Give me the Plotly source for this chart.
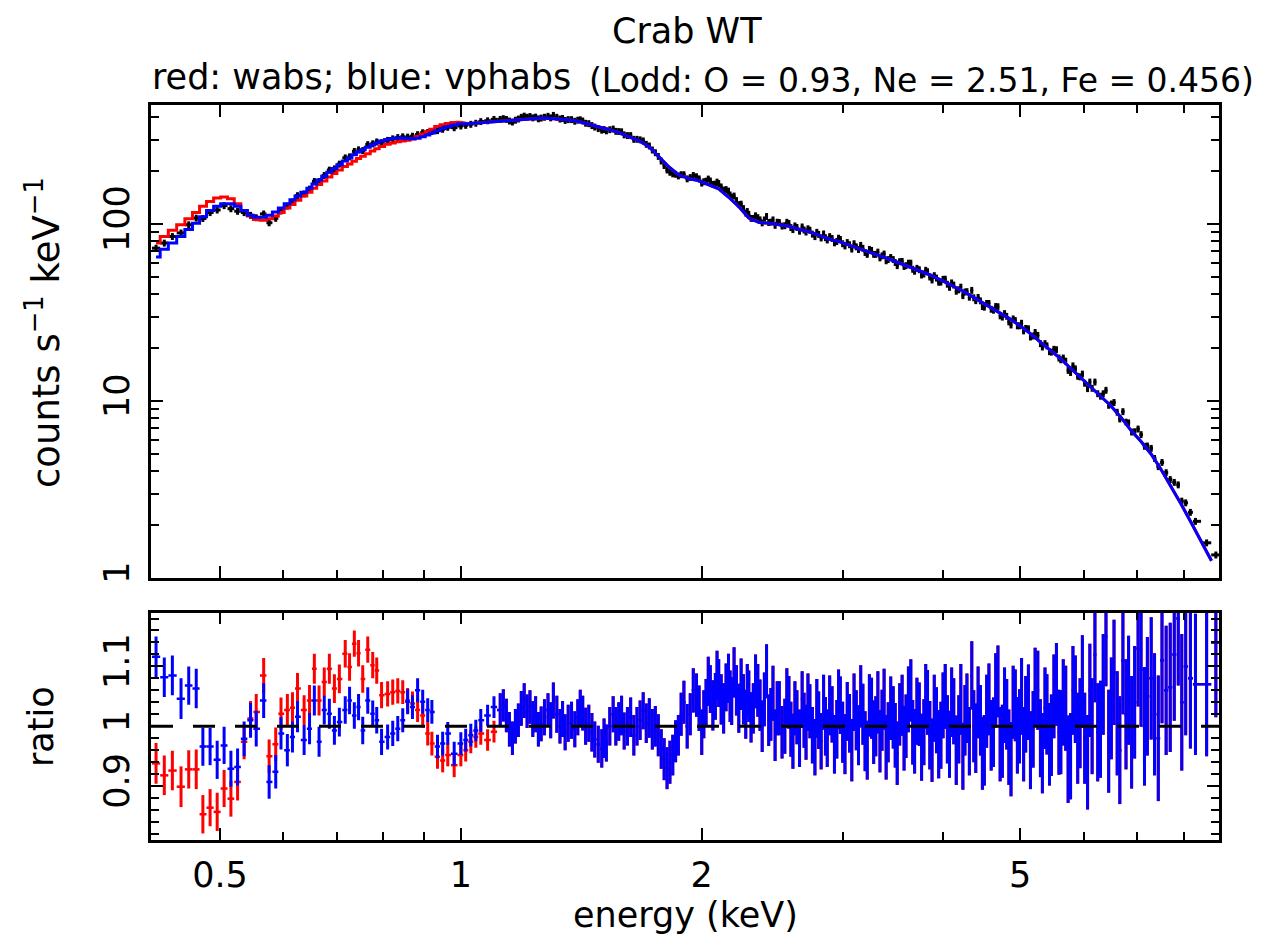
import numpy as np
import plotly.graph_objects as go

# ---------------------------------------------------------------------------
# Energy grid of the spectral bins (keV); data and ratio share these bins
# ---------------------------------------------------------------------------
energy_lo = [0.416, 0.426, 0.436, 0.447, 0.457, 0.467, 0.476, 0.486, 0.496, 0.506,
             0.516, 0.526, 0.536, 0.546, 0.555, 0.567, 0.576, 0.587, 0.596, 0.607,
             0.616, 0.625, 0.637, 0.647, 0.656, 0.665, 0.675, 0.685, 0.695, 0.705,
             0.717, 0.726, 0.736, 0.745, 0.754, 0.765, 0.776, 0.785, 0.796, 0.810,
             0.822, 0.834, 0.846, 0.858, 0.870, 0.883, 0.896, 0.909, 0.920, 0.935,
             0.949, 0.963, 0.981, 1.000, 1.014, 1.029, 1.044, 1.059, 1.080, 1.100]
energy_a = [1.12, 1.13, 1.14, 1.15, 1.16, 1.17, 1.18, 1.19, 1.20, 1.21,
            1.22, 1.23, 1.24, 1.25, 1.26, 1.272, 1.285, 1.295, 1.305, 1.318,
            1.33, 1.34, 1.35, 1.362, 1.375, 1.388, 1.40, 1.41, 1.42, 1.432,
            1.445, 1.458, 1.47, 1.485, 1.50, 1.51, 1.52, 1.535, 1.55, 1.562,
            1.575, 1.588, 1.60, 1.615, 1.63, 1.645, 1.66, 1.675, 1.69, 1.705,
            1.72, 1.735, 1.75, 1.765, 1.78, 1.795, 1.81, 1.825, 1.84, 1.855,
            1.87, 1.885, 1.90, 1.918, 1.935, 1.952, 1.97, 1.985]
energy_b = [2.00, 2.012, 2.025, 2.038, 2.05, 2.065, 2.08, 2.09, 2.10, 2.115,
            2.13, 2.145, 2.16, 2.17, 2.18, 2.195, 2.21, 2.225, 2.24, 2.255,
            2.27, 2.28, 2.29, 2.305, 2.32, 2.335, 2.35, 2.365, 2.38, 2.395,
            2.41, 2.425, 2.44, 2.455, 2.47, 2.485, 2.50, 2.52, 2.54, 2.555,
            2.57, 2.585, 2.60, 2.615, 2.63, 2.65, 2.67, 2.685, 2.70, 2.715,
            2.73, 2.75, 2.77, 2.785, 2.80, 2.82, 2.84, 2.855, 2.87, 2.89,
            2.91, 2.93, 2.95, 2.965, 2.98, 3.00, 3.02, 3.04, 3.06, 3.08,
            3.10, 3.12, 3.14, 3.16, 3.18, 3.20, 3.22, 3.24, 3.26, 3.28,
            3.30, 3.32, 3.34, 3.36, 3.38, 3.40, 3.42, 3.445, 3.47, 3.49,
            3.51, 3.535, 3.56, 3.58, 3.60, 3.625, 3.65, 3.67, 3.69, 3.715,
            3.74, 3.765, 3.79, 3.81, 3.83, 3.855, 3.88, 3.905, 3.93, 3.955,
            3.98, 4.005, 4.03, 4.055, 4.08, 4.105, 4.13, 4.16, 4.19, 4.215,
            4.24, 4.265, 4.29, 4.32, 4.35, 4.375, 4.40, 4.43, 4.46, 4.485,
            4.51, 4.54, 4.57, 4.60, 4.63, 4.66, 4.69, 4.72, 4.75, 4.78,
            4.81, 4.84, 4.87, 4.90, 4.93, 4.96, 4.99, 5.02]
energy_c = [5.05, 5.08, 5.12, 5.15, 5.19, 5.22, 5.26, 5.30, 5.33, 5.37,
            5.40, 5.44, 5.47, 5.51, 5.55, 5.59, 5.62, 5.66, 5.70, 5.74,
            5.78, 5.82, 5.86, 5.90, 5.94, 5.98, 6.02, 6.07, 6.11, 6.15,
            6.20, 6.25, 6.30, 6.35, 6.40, 6.45, 6.50, 6.55, 6.61, 6.66,
            6.72, 6.78, 6.83, 6.89, 6.95, 7.02, 7.08, 7.15, 7.21, 7.29,
            7.36, 7.44, 7.52, 7.61, 7.70, 7.79, 7.88, 7.96, 8.05, 8.16,
            8.28, 8.55, 8.78]

# ---------------------------------------------------------------------------
# Top panel: measured counts s^-1 keV^-1 (black crosses)
# ---------------------------------------------------------------------------
counts_lo = [73, 78, 85, 89, 99, 108, 107.5, 116, 120, 127,
             122, 118, 116, 112, 108.5, 114, 101.6, 107.7, 118.4, 126.3,
             133, 144.6, 148, 157.5, 174, 174, 188, 201.7, 205, 218,
             236.5, 239.6, 257, 262.5, 260, 281, 284, 291, 288, 297,
             303, 308, 311, 310, 313.5, 320, 328, 329, 333, 337,
             343, 352, 350, 358, 361, 366, 371, 379, 383, 390]
counts_a = [390, 394, 390, 382, 377, 386, 392, 401, 407, 401,
            405, 398, 402, 393, 397, 401, 406, 398, 411, 401,
            392, 395, 385, 389, 389, 381, 386, 388, 382, 371,
            369, 360, 353, 346, 339, 342, 336, 341, 344, 334,
            333, 332, 319, 316, 316, 301, 301, 299, 295, 282,
            276, 262, 253, 241, 227, 214, 202, 196, 192, 191,
            187, 190, 190, 180, 183, 188, 185, 180]
counts_b = [170.3, 173.4, 174.7, 179.5, 175.2, 167.7, 168, 172.5, 169.4, 162,
            155.5, 156.6, 153.4, 146, 141.7, 143.9, 135.7, 128.8, 129.5, 122.3,
            115.3, 117.7, 113.4, 107.6, 107.6, 111.3, 108.7, 105.6, 101.5, 105.5,
            110.3, 102, 102.5, 105.5, 98.3, 102.4, 102, 97.4, 97.8, 102.3,
            100.7, 95.5, 93, 97.6, 95.6, 91.1, 96.3, 92.5, 90.1, 94,
            92.3, 87.7, 84.9, 89.8, 87.4, 83.4, 87.9, 83.7, 81.3, 84.9,
            82.9, 78.3, 79.7, 83.2, 81.8, 77.4, 75.2, 78.6, 76.4, 72.2,
            77.4, 74.3, 71.8, 75.8, 72.9, 69.1, 67.4, 71.9, 70.9, 67.4,
            67.4, 69.4, 64.4, 66.1, 67.7, 62, 63, 64.7, 63, 60.6,
            58.2, 61.3, 61.5, 57.6, 58.2, 60.1, 60.1, 55.5, 54.1, 56.2,
            55.2, 51.5, 52.2, 54.8, 53.8, 50.2, 48.3, 51.1, 49.5, 46.9,
            47, 48.7, 48.8, 45.7, 43.9, 46.5, 45.2, 41.7, 42.5, 44,
            39.4, 41.3, 41.5, 38.6, 42.2, 38.3, 36.9, 38.5, 36.8, 34.2,
            33.9, 35.6, 35.6, 33, 32.6, 34.2, 34.1, 30.3, 29.8, 31.2,
            30.1, 28, 26.9, 29.1, 28.5, 26.6, 26.6, 27.5]
counts_c = [24.9, 25.7, 25.6, 23, 23.3, 24.4, 23.5, 21.1, 20.2, 21.1,
            20.5, 19, 18.9, 19.6, 19.5, 17.5, 17.1, 17.5, 16.8, 14.9,
            14.5, 15.8, 15.2, 13.8, 13.7, 14.2, 12.6, 11.75, 12.8, 11.8,
            12.8, 11, 10.65, 11, 11.5, 9.46, 9.63, 9.81, 8.64, 7.92,
            8.71, 7.6, 7.53, 6.68, 6.71, 6.95, 6.46, 5.55, 5.57, 5.4,
            4.74, 4.26, 4.5, 3.94, 3.6, 3.47, 3.36, 2.72, 2.66, 2.35,
            2.09, 1.58, 1.35]

# folded models: red = wabs, blue = vphabs
model_energy_lo = energy_lo[:54]
wabs_model_lo = [78, 85, 92, 99, 107, 116, 126, 134, 140, 142,
                 139, 130, 119, 111, 106, 105, 107, 111, 116, 123,
                 129, 136, 144, 151, 159, 167, 175, 184, 193, 202,
                 211, 218, 226, 234, 241, 249, 258, 266, 274, 282,
                 287, 291, 294, 297, 302, 312, 322, 333, 343, 355,
                 364, 370, 374, 376]
vphabs_model_lo = [65, 72, 78, 85, 93, 101, 110, 119, 126, 130,
                   130, 126, 119, 112, 109, 109, 112, 117, 123, 130,
                   137, 144, 151, 159, 168, 177, 186, 196, 206, 216,
                   227, 236, 246, 255, 263, 271, 279, 287, 294, 300,
                   304, 306, 305, 303, 303, 305, 311, 318, 326, 336,
                   346, 354, 362, 368]
model_energy_hi = [1.02, 1.05, 1.08, 1.11, 1.14, 1.18, 1.21, 1.25, 1.28, 1.32,
                   1.36, 1.40, 1.44, 1.48, 1.53, 1.57, 1.62, 1.67, 1.72, 1.77,
                   1.82, 1.87, 1.93, 1.98, 2.04, 2.10, 2.16, 2.23, 2.29, 2.36,
                   2.43, 2.50, 2.57, 2.65, 2.73, 2.81, 2.89, 2.97, 3.06, 3.15,
                   3.24, 3.34, 3.44, 3.54, 3.64, 3.75, 3.86, 3.97, 4.09, 4.21,
                   4.33, 4.46, 4.59, 4.72, 4.86, 5.00, 5.15, 5.30, 5.46, 5.62,
                   5.78, 5.95, 6.13, 6.31, 6.49, 6.68, 6.88, 7.08, 7.29, 7.50,
                   7.72, 7.95, 8.18, 8.42, 8.67]
model_hi = [368, 372, 376, 379, 383, 388, 391, 395, 395, 393,
            388, 380, 368, 357, 342, 330, 312, 295, 272, 240,
            210, 190, 180, 176, 166, 158, 142, 124, 108, 102,
            101, 99, 97, 93, 90, 86, 82, 79.5, 76, 72.5,
            69.5, 66, 63, 60, 57, 54, 51.5, 48.5, 45.5, 42.5,
            39.5, 36.5, 34, 31.5, 29, 26.5, 24, 21.5, 19.3, 17.3,
            15.3, 13.5, 12, 10.6, 9.4, 8.1, 6.8, 5.9, 5.0, 4.1,
            3.3, 2.6, 2.05, 1.6, 1.25]

# ---------------------------------------------------------------------------
# Bottom panel: data / model ratio
# ---------------------------------------------------------------------------
ratio_wabs_lo = [0.938, 0.918, 0.926, 0.899, 0.928, 0.928, 0.853, 0.864, 0.857, 0.896,
                 0.879, 0.907, 0.974, 1.013, 1.024, 1.085, 0.950, 0.970, 1.021, 1.027,
                 1.031, 1.063, 1.027, 1.043, 1.096, 1.043, 1.074, 1.096, 1.063, 1.079,
                 1.121, 1.099, 1.138, 1.122, 1.079, 1.128, 1.102, 1.093, 1.052, 1.054,
                 1.057, 1.059, 1.057, 1.043, 1.038, 1.027, 1.018, 0.988, 0.971, 0.949,
                 0.943, 0.952, 0.935, 0.952, 0.960, 0.974, 0.982, 0.988, 0.977, 0.991]
ratio_vphabs_lo = [1.116, 1.082, 1.085, 1.046, 1.068, 1.063, 0.966, 0.966, 0.944, 0.968,
                   0.929, 0.932, 0.979, 1.010, 0.996, 1.043, 0.907, 0.924, 0.988, 0.960,
                   0.982, 1.016, 0.977, 0.996, 1.043, 0.974, 1.027, 1.021, 0.993, 1.007,
                   1.027, 1.043, 1.018, 1.032, 0.993, 1.043, 1.021, 1.010, 0.974, 0.982,
                   0.988, 0.996, 1.010, 1.041, 1.032, 1.060, 1.041, 1.027, 1.024, 0.966,
                   0.971, 0.988, 0.954, 0.971, 0.977, 0.985, 0.993, 1.010, 1.018, 1.032]
ratio_err_lo = [0.034, 0.033, 0.033, 0.034, 0.032, 0.033, 0.032, 0.031, 0.032, 0.031,
                0.030, 0.031, 0.029, 0.029, 0.030, 0.029, 0.028, 0.028, 0.027, 0.027,
                0.026, 0.026, 0.025, 0.026, 0.025, 0.025, 0.024, 0.025, 0.024, 0.024,
                0.023, 0.023, 0.022, 0.022, 0.023, 0.022, 0.022, 0.022, 0.022, 0.021,
                0.021, 0.021, 0.020, 0.021, 0.020, 0.020, 0.020, 0.020, 0.020, 0.020,
                0.020, 0.019, 0.020, 0.019, 0.019, 0.019, 0.018, 0.019, 0.018, 0.018]

# above 1.1 keV the two ratios coincide
ratio_a = [1.027, 1.035, 1.018, 0.995, 0.980, 1.000, 1.010, 1.030, 1.043, 1.025,
           1.032, 1.012, 1.020, 0.995, 1.004, 1.015, 1.027, 1.010, 1.043, 1.020,
           1.000, 1.012, 0.990, 1.005, 1.010, 0.995, 1.015, 1.030, 1.022, 1.000,
           1.005, 0.990, 0.978, 0.970, 0.963, 0.980, 0.972, 1.000, 1.020, 1.000,
           1.008, 1.018, 0.992, 1.000, 1.015, 0.985, 1.000, 1.010, 1.026, 1.005,
           1.014, 0.995, 1.000, 0.985, 0.962, 0.945, 0.930, 0.940, 0.952, 0.975,
           0.985, 1.020, 1.040, 1.000, 1.020, 1.060, 1.052, 1.030]
ratio_err_a = [0.028, 0.027, 0.028, 0.029, 0.028, 0.029, 0.028, 0.029, 0.029, 0.028,
               0.028, 0.030, 0.030, 0.029, 0.029, 0.030, 0.028, 0.030, 0.030, 0.031,
               0.029, 0.030, 0.030, 0.031, 0.031, 0.030, 0.030, 0.031, 0.029, 0.031,
               0.031, 0.032, 0.030, 0.031, 0.032, 0.033, 0.031, 0.032, 0.030, 0.032,
               0.032, 0.033, 0.031, 0.032, 0.033, 0.034, 0.032, 0.033, 0.031, 0.033,
               0.033, 0.034, 0.034, 0.035, 0.033, 0.035, 0.035, 0.036, 0.034, 0.035,
               0.034, 0.036, 0.036, 0.037, 0.035, 0.037, 0.036, 0.038]
ratio_b = [0.990, 1.020, 1.040, 1.075, 1.062, 1.035, 1.050, 1.085, 1.072, 1.045,
           1.030, 1.065, 1.080, 1.050, 1.042, 1.090, 1.060, 1.030, 1.070, 1.045,
           1.020, 1.060, 1.050, 1.015, 1.030, 1.075, 1.060, 1.035, 1.000, 1.045,
           1.092, 1.010, 1.020, 1.055, 0.985, 1.030, 1.030, 0.990, 1.000, 1.050,
           1.040, 0.995, 0.975, 1.030, 1.015, 0.980, 1.045, 1.010, 0.990, 1.040,
           1.025, 0.985, 0.965, 1.030, 1.010, 0.975, 1.040, 1.000, 0.980, 1.035,
           1.020, 0.970, 0.995, 1.045, 1.035, 0.990, 0.970, 1.025, 1.005, 0.960,
           1.040, 1.010, 0.985, 1.050, 1.020, 0.975, 0.960, 1.035, 1.030, 0.990,
           1.000, 1.040, 0.975, 1.010, 1.045, 0.965, 0.990, 1.030, 1.015, 0.985,
           0.955, 1.020, 1.035, 0.980, 1.000, 1.045, 1.060, 0.990, 0.975, 1.025,
           1.020, 0.965, 0.990, 1.050, 1.040, 0.985, 0.960, 1.030, 1.010, 0.970,
           0.985, 1.035, 1.050, 0.995, 0.970, 1.040, 1.025, 0.960, 0.995, 1.045,
           0.950, 1.010, 1.030, 0.975, 1.085, 1.000, 0.980, 1.040, 1.010, 0.955,
           0.960, 1.025, 1.045, 0.985, 0.990, 1.060, 1.075, 0.970, 0.975, 1.035,
           1.020, 0.965, 0.945, 1.040, 1.035, 0.985, 1.000, 1.050]
ratio_err_b = [0.038, 0.040, 0.039, 0.041, 0.040, 0.042, 0.039, 0.041, 0.040, 0.042,
               0.042, 0.040, 0.041, 0.043, 0.040, 0.042, 0.042, 0.041, 0.043, 0.042,
               0.041, 0.044, 0.043, 0.042, 0.042, 0.045, 0.044, 0.043, 0.043, 0.045,
               0.045, 0.043, 0.044, 0.046, 0.043, 0.045, 0.045, 0.044, 0.046, 0.047,
               0.044, 0.046, 0.046, 0.045, 0.045, 0.048, 0.047, 0.046, 0.046, 0.048,
               0.045, 0.047, 0.047, 0.049, 0.048, 0.047, 0.046, 0.049, 0.048, 0.050,
               0.047, 0.049, 0.049, 0.050, 0.048, 0.051, 0.050, 0.049, 0.049, 0.052,
               0.048, 0.050, 0.050, 0.052, 0.051, 0.050, 0.049, 0.052, 0.051, 0.053,
               0.050, 0.052, 0.052, 0.051, 0.051, 0.054, 0.050, 0.053, 0.052, 0.054,
               0.053, 0.052, 0.051, 0.054, 0.053, 0.055, 0.052, 0.054, 0.054, 0.056,
               0.053, 0.056, 0.055, 0.054, 0.054, 0.057, 0.053, 0.056, 0.055, 0.057,
               0.056, 0.055, 0.054, 0.057, 0.056, 0.058, 0.055, 0.058, 0.057, 0.059,
               0.056, 0.059, 0.058, 0.057, 0.057, 0.060, 0.058, 0.060, 0.059, 0.061,
               0.059, 0.061, 0.060, 0.059, 0.058, 0.062, 0.060, 0.062, 0.061, 0.063,
               0.059, 0.063, 0.062, 0.061, 0.060, 0.064, 0.062, 0.064]
ratio_c = [0.970, 1.020, 1.040, 0.960, 0.995, 1.065, 1.060, 0.980, 0.955, 1.030,
           1.020, 0.970, 0.985, 1.050, 1.070, 0.990, 0.990, 1.040, 1.030, 0.945,
           0.950, 1.060, 1.045, 0.980, 1.005, 1.075, 0.980, 0.940, 1.060, 1.000,
           1.120, 0.990, 0.995, 1.070, 1.150, 0.975, 1.030, 1.090, 1.005, 0.960,
           1.110, 1.020, 1.060, 0.990, 1.040, 1.130, 1.095, 1.000, 1.050, 1.080,
           1.020, 0.980, 1.110, 1.060, 1.065, 1.120, 1.180, 1.040, 1.100, 1.080,
           1.070, 1.070, 1.140]
ratio_err_c = [0.062, 0.064, 0.063, 0.065, 0.064, 0.066, 0.066, 0.065, 0.067, 0.068,
               0.067, 0.069, 0.068, 0.070, 0.069, 0.071, 0.070, 0.072, 0.071, 0.073,
               0.072, 0.074, 0.073, 0.076, 0.075, 0.077, 0.076, 0.079, 0.078, 0.080,
               0.080, 0.082, 0.081, 0.084, 0.083, 0.086, 0.085, 0.088, 0.087, 0.090,
               0.090, 0.092, 0.091, 0.094, 0.094, 0.097, 0.096, 0.099, 0.099, 0.102,
               0.102, 0.105, 0.105, 0.108, 0.108, 0.111, 0.112, 0.114, 0.115, 0.117,
               0.118, 0.120, 0.125]

# axis ticks
x_major = [0.5, 1, 2, 5]
x_minor = [0.6, 0.7, 0.8, 0.9, 3, 4, 6, 7, 8]
y_major = [1, 10, 100]
y_minor = [2, 3, 4, 5, 6, 7, 8, 9, 20, 30, 40, 50, 60, 70, 80, 90, 200, 300, 400]
r_major = [0.9, 1.0, 1.1]
r_labels = ["0.9", "1", "1.1"]
r_minor = [0.82, 0.84, 0.86, 0.88, 0.92, 0.94, 0.96, 0.98,
           1.02, 1.04, 1.06, 1.08, 1.12, 1.14, 1.16, 1.18]

FONT = "DejaVu Sans"
RED = "#ff0000"
BLUE = "#0000ff"


def half_bins(e):
    """Half widths of bins centred on e (log-midpoint edges)."""
    e = np.asarray(e, float)
    edges = np.sqrt(e[1:] * e[:-1])
    lo = np.concatenate([[e[0] ** 2 / edges[0]], edges])
    hi = np.concatenate([edges, [e[-1] ** 2 / edges[-1]]])
    return hi - e, e - lo


energy = energy_lo + energy_a + energy_b + energy_c
counts = counts_lo + counts_a + counts_b + counts_c
ratio_hi = ratio_a + ratio_b + ratio_c
ratio_wabs = ratio_wabs_lo + ratio_hi
ratio_vphabs = ratio_vphabs_lo + ratio_hi
ratio_err = ratio_err_lo + ratio_err_a + ratio_err_b + ratio_err_c
bin_plus, bin_minus = half_bins(energy)

fig = go.Figure()

# data points (black crosses)
fig.add_trace(go.Scatter(
    x=energy, y=counts, mode='markers',
    marker=dict(size=3, color='black'),
    error_x=dict(type='data', symmetric=False, array=bin_plus, arrayminus=bin_minus,
                 color='black', thickness=3, width=0),
    error_y=dict(type='percent', value=4.5, color='black', thickness=3, width=0),
    xaxis='x', yaxis='y', showlegend=False))

# models: histogram steps at low energy, fine bins above 1 keV
for lo_vals, col in [(wabs_model_lo, RED), (vphabs_model_lo, BLUE)]:
    fig.add_trace(go.Scatter(
        x=model_energy_lo, y=lo_vals, mode='lines', line_shape='hvh',
        line=dict(color=col, width=3), xaxis='x', yaxis='y', showlegend=False))
    fig.add_trace(go.Scatter(
        x=model_energy_lo[-1:] + model_energy_hi, y=lo_vals[-1:] + model_hi,
        mode='lines', line=dict(color=col, width=3),
        xaxis='x', yaxis='y', showlegend=False))

# ratio panel
for vals, col in [(ratio_wabs, RED), (ratio_vphabs, BLUE)]:
    fig.add_trace(go.Scatter(
        x=energy, y=vals, mode='markers',
        marker=dict(size=2, color=col),
        error_x=dict(type='data', symmetric=False, array=bin_plus, arrayminus=bin_minus,
                     color=col, thickness=2.5, width=0),
        error_y=dict(type='data', array=ratio_err, color=col, thickness=3, width=0),
        xaxis='x2', yaxis='y2', showlegend=False))

axis_common = dict(showline=True, linecolor='black', linewidth=2.5, mirror='allticks',
                   ticks='inside', ticklen=12, tickwidth=2, tickcolor='black',
                   showgrid=False, zeroline=False,
                   tickfont=dict(family=FONT, size=35, color='black'))
minor_common = dict(ticks='inside', ticklen=8, tickwidth=2, tickcolor='black')

x_range = [np.log10(0.41), np.log10(8.86)]
fig.update_layout(
    width=1253, height=928,
    margin=dict(l=143, r=42, t=97, b=96),
    paper_bgcolor='white', plot_bgcolor='white',
    xaxis=dict(type='log', range=x_range, domain=[0, 1], anchor='y',
               tickvals=x_major, showticklabels=False,
               minor=dict(tickvals=x_minor, **minor_common),
               **axis_common),
    yaxis=dict(type='log', range=[0, np.log10(470)], domain=[0.3565, 1], anchor='x',
               tickvals=y_major, ticktext=['1', '10', '100'], tickangle=-90,
               ticklabelstandoff=5,
               minor=dict(tickvals=y_minor, **minor_common),
               **axis_common),
    xaxis2=dict(type='log', range=x_range, domain=[0, 1], anchor='y2', matches='x',
                tickvals=x_major, ticktext=['0.5', '1', '2', '5'],
                ticklabelstandoff=2,
                minor=dict(tickvals=x_minor, **minor_common),
                **axis_common),
    yaxis2=dict(range=[0.81, 1.19], domain=[0, 0.3095], anchor='x2',
                tickvals=r_major, ticktext=r_labels, tickangle=-90,
                ticklabelstandoff=5,
                minor=dict(tickvals=r_minor, **minor_common),
                **axis_common),
    shapes=[dict(type='line', xref='x2 domain', x0=0, x1=1, yref='y2', y0=1, y1=1,
                 line=dict(color='black', width=3, dash='22px,20px'), layer='above')],
    annotations=[
        dict(text='Crab WT', xref='paper', yref='paper', x=0.502, y=1.1007,
             xanchor='center', yanchor='middle', showarrow=False,
             font=dict(family=FONT, size=35, color='black')),
        dict(text='red: wabs; blue: vphabs', xref='paper', yref='paper', x=-0.001, y=1.038,
             xanchor='left', yanchor='middle', showarrow=False,
             font=dict(family=FONT, size=35, color='black')),
        dict(text='(Lodd: O = 0.93, Ne = 2.51, Fe = 0.456)', xref='paper', yref='paper',
             x=0.408, y=1.033, xanchor='left', yanchor='middle', showarrow=False,
             font=dict(family=FONT, size=33, color='black')),
        dict(text='counts s<sup>\u22121</sup> keV<sup>\u22121</sup>', xref='paper', yref='paper',
             x=-0.1, y=0.69, xanchor='center', yanchor='middle', textangle=-90,
             showarrow=False, font=dict(family=FONT, size=37, color='black')),
        dict(text='ratio', xref='paper', yref='paper', x=-0.103, y=0.155,
             xanchor='center', yanchor='middle', textangle=-90,
             showarrow=False, font=dict(family=FONT, size=35, color='black')),
        dict(text='energy (keV)', xref='paper', yref='paper', x=0.5, y=-0.102,
             xanchor='center', yanchor='middle', showarrow=False,
             font=dict(family=FONT, size=35, color='black')),
    ],
)

fig.write_html("out.html")
